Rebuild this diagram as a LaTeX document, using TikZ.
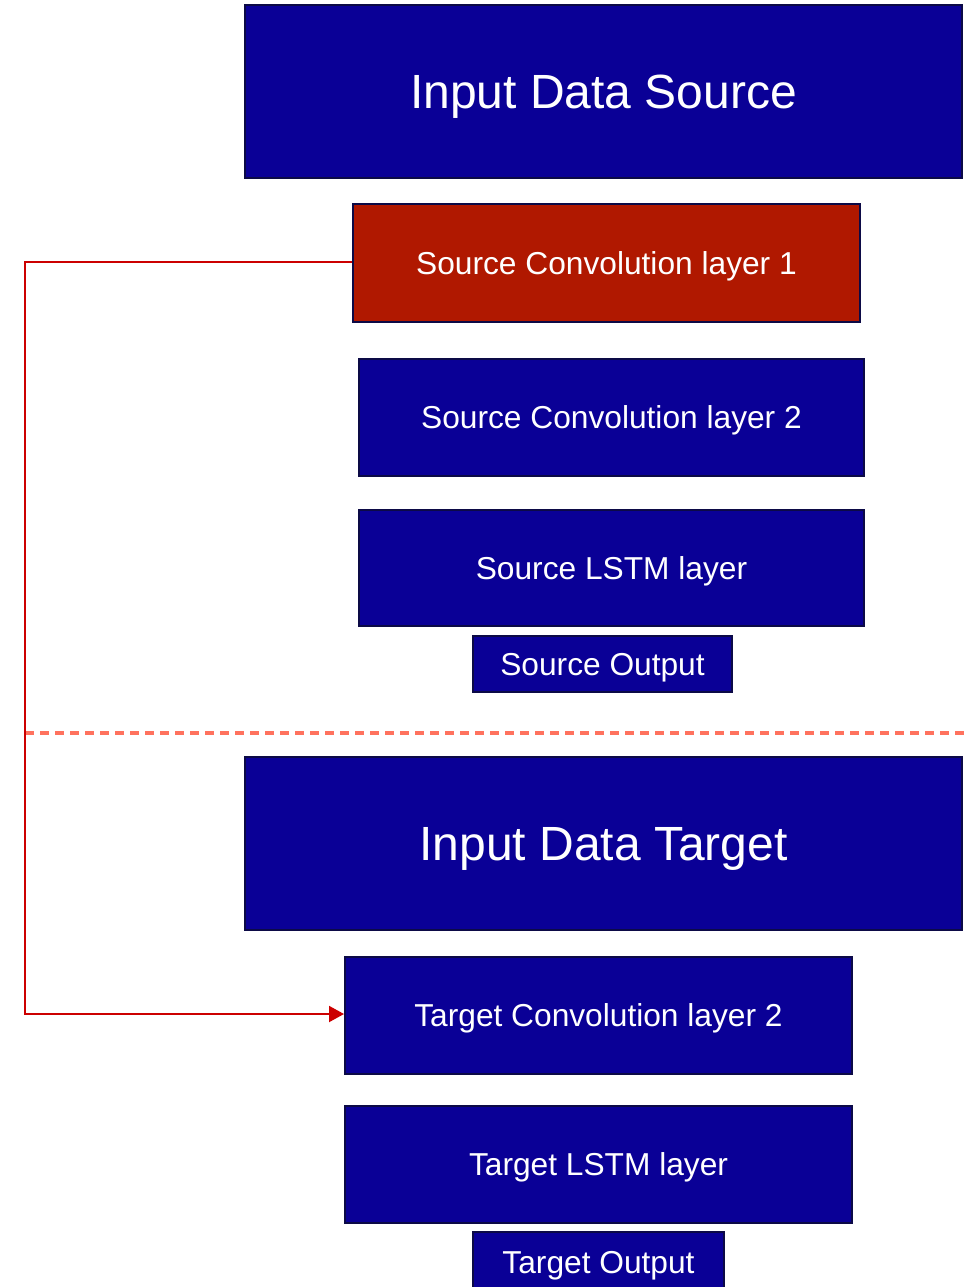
\documentclass[tikz,border=0pt]{standalone}
\usepackage{fontspec}
\setmainfont{Liberation Sans}
\usetikzlibrary{arrows.meta}
\definecolor{boxblue}{RGB}{10,0,150}
\definecolor{boxred}{RGB}{176,24,0}
\definecolor{boxedge}{RGB}{12,10,70}
\definecolor{linkred}{RGB}{204,0,0}
\definecolor{sepcol}{RGB}{255,114,94}
\tikzset{
  layerbox/.style={draw=boxedge, line width=2pt, fill=boxblue, text=white, inner sep=0pt,
    font=\fontsize{31.7}{36}\selectfont, text height=22.7pt, text depth=0pt},
  bigbox/.style={layerbox, font=\fontsize{48}{56}\selectfont, text height=34.4pt},
  redbox/.style={layerbox, fill=boxred},
  link/.style={draw=linkred, line width=2pt, -{Triangle[length=15pt,width=16pt]}},
  sep/.style={draw=sepcol, line width=3.5pt, dash pattern=on 8.5pt off 6.5pt}
}
\begin{document}
\begin{tikzpicture}[x=1pt,y=-1pt]
\useasboundingbox (0,0) rectangle (969,1287);
\node[bigbox, minimum width=717pt, minimum height=173pt] (ids) at (603.5,91.5) {Input Data Source};
\node[redbox, minimum width=507pt, minimum height=118pt] (sc1) at (606.5,263) {Source Convolution layer 1};
\node[layerbox, minimum width=505pt, minimum height=117pt] (sc2) at (611.5,417.5) {Source Convolution layer 2};
\node[layerbox, minimum width=505pt, minimum height=116pt] (slstm) at (611.5,568) {Source LSTM layer};
\node[layerbox, minimum width=259pt, minimum height=56pt] (sout) at (602.5,664) {Source Output};
\coordinate (sepL) at (25,733);
\coordinate (sepR) at (975,733);
\draw[sep] (sepL) -- (sepR);
\node[bigbox, minimum width=717pt, minimum height=173pt] (idt) at (603.5,843.5) {Input Data Target};
\node[layerbox, minimum width=507pt, minimum height=117pt] (tc2) at (598.5,1015.5) {Target Convolution layer 2};
\node[layerbox, minimum width=507pt, minimum height=117pt] (tlstm) at (598.5,1164.5) {Target LSTM layer};
\node[layerbox, minimum width=251pt, minimum height=60pt] (tout) at (598.5,1262) {Target Output};
\coordinate (c1) at (25,262);
\coordinate (c2) at (25,1014);
\draw[link] (sc1.west |- c1) -- (c1) -- (c2) -- (tc2.west |- c2);
\end{tikzpicture}
\end{document}
